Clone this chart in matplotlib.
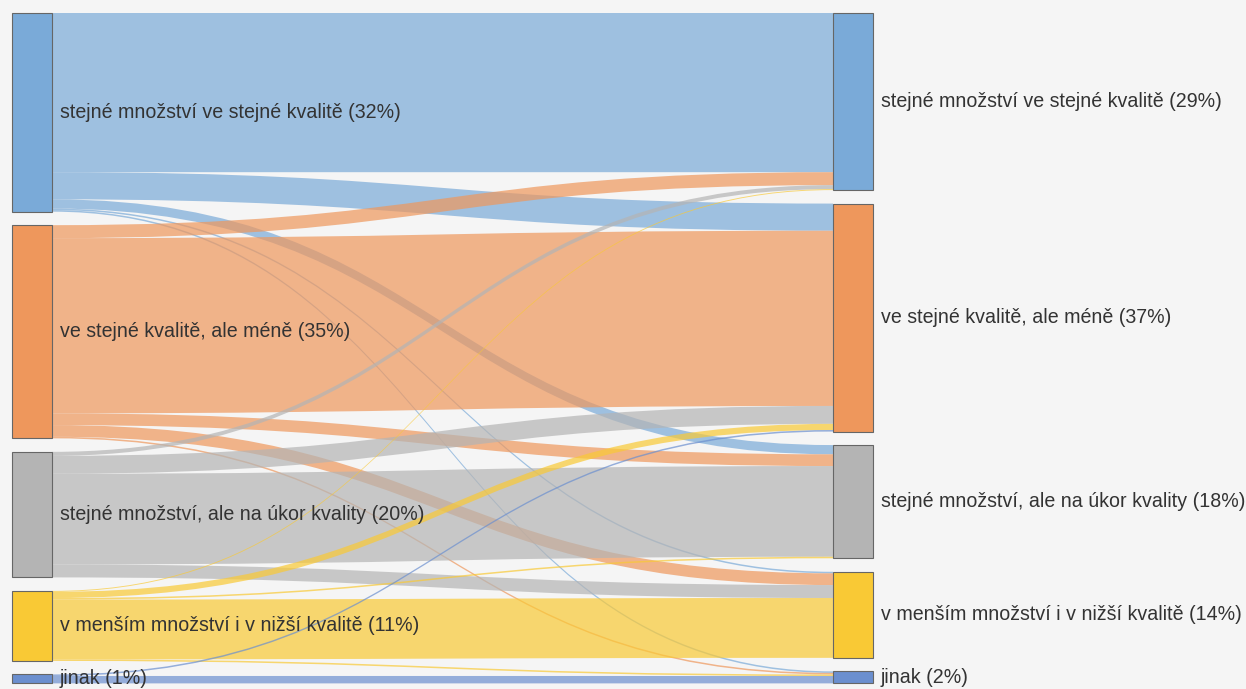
#!/usr/bin/env python3
"""Sankey: how shopping habits changed (left = before, right = now)."""

import matplotlib
matplotlib.use('Agg')
import matplotlib.pyplot as plt
from matplotlib.path import Path
from matplotlib.patches import PathPatch, Rectangle
import numpy as np

categories = [
    'stejné množství ve stejné kvalitě',
    've stejné kvalitě, ale méně',
    'stejné množství, ale na úkor kvality',
    'v menším množství i v nižší kvalitě',
    'jinak',
]
left_pct_labels = [32, 35, 20, 11, 1]
right_pct_labels = [29, 37, 18, 14, 2]

# flows[i][j] = share (%) moving from left category i to right category j
flows = np.array([
    [25.8, 4.4, 1.5, 0.25, 0.25],
    [2.1, 28.4, 1.9, 1.9, 0.25],
    [0.65, 2.9, 14.7, 2.1, 0.0],
    [0.15, 1.0, 0.25, 9.7, 0.25],
    [0.0, 0.25, 0.0, 0.0, 1.2],
])

colors = ['#7aaad8', '#ee975c', '#b4b4b4', '#f9c935', '#6b8fcf']
BG = '#f5f5f5'

W, H = 1246, 689
LEFT_X, RIGHT_X, NODE_W = 12, 833, 40
TOP, GAP = 13, 13.5
SCALE = 6.17  # px per percent


def node_positions(totals):
    ys, y = [], TOP
    for t in totals:
        ys.append(y)
        y += t * SCALE + GAP
    return ys


def ribbon(ax, x0, y0a, y0b, x1, y1a, y1b, color):
    xm = (x0 + x1) / 2
    verts = [(x0, y0a), (xm, y0a), (xm, y1a), (x1, y1a),
             (x1, y1b), (xm, y1b), (xm, y0b), (x0, y0b), (x0, y0a)]
    codes = [Path.MOVETO, Path.CURVE4, Path.CURVE4, Path.CURVE4,
             Path.LINETO, Path.CURVE4, Path.CURVE4, Path.CURVE4, Path.CLOSEPOLY]
    ax.add_patch(PathPatch(Path(verts, codes), facecolor=color, edgecolor='none',
                           alpha=0.7, zorder=1))


def main():
    fig = plt.figure(figsize=(W / 100, H / 100), dpi=100, facecolor=BG)
    ax = fig.add_axes([0, 0, 1, 1])
    ax.set_facecolor(BG)
    ax.set_xlim(0, W)
    ax.set_ylim(H, 0)
    ax.axis('off')

    left_tot = flows.sum(axis=1)
    right_tot = flows.sum(axis=0)
    left_y = node_positions(left_tot)
    right_y = node_positions(right_tot)

    # running offsets inside each node
    left_off = list(left_y)
    right_off = list(right_y)
    for i in range(len(categories)):
        for j in range(len(categories)):
            v = flows[i, j] * SCALE
            if v <= 0:
                continue
            ribbon(ax, LEFT_X + NODE_W, left_off[i], left_off[i] + v,
                   RIGHT_X, right_off[j], right_off[j] + v, colors[i])
            left_off[i] += v
            right_off[j] += v

    font = dict(family=['Liberation Sans', 'DejaVu Sans'], fontsize=14.1,
                color='#333333', va='center', zorder=3)
    for i, name in enumerate(categories):
        lh = left_tot[i] * SCALE
        rh = right_tot[i] * SCALE
        ax.add_patch(Rectangle((LEFT_X, left_y[i]), NODE_W, lh, facecolor=colors[i],
                               edgecolor='#666666', linewidth=0.8, zorder=2))
        ax.add_patch(Rectangle((RIGHT_X, right_y[i]), NODE_W, rh, facecolor=colors[i],
                               edgecolor='#666666', linewidth=0.8, zorder=2))
        ax.text(LEFT_X + NODE_W + 8, left_y[i] + lh / 2,
                f'{name} ({left_pct_labels[i]}%)', ha='left', **font)
        ax.text(RIGHT_X + NODE_W + 8, right_y[i] + rh / 2,
                f'{name} ({right_pct_labels[i]}%)', ha='left', **font)

    fig.savefig('out.png', dpi=100, facecolor=BG)


if __name__ == '__main__':
    main()
